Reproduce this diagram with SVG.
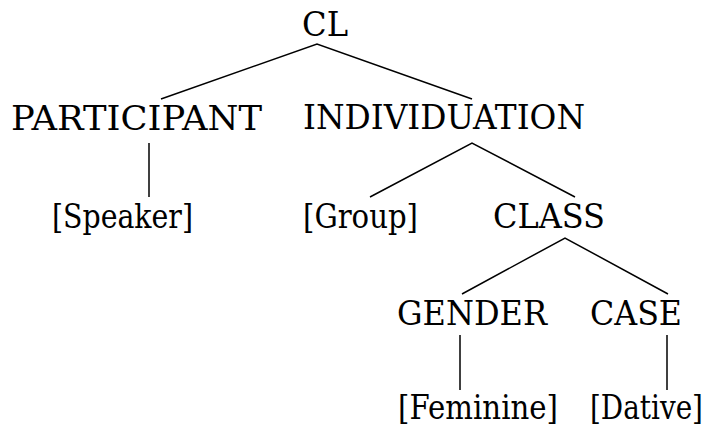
<svg xmlns="http://www.w3.org/2000/svg" width="714" height="429" viewBox="0 0 714 429">
<style>
.t{font-family:"DejaVu Serif",serif;font-size:34px;fill:#000}
.e{stroke:#000;stroke-width:1.5;fill:none}
</style>
<rect width="714" height="429" fill="#fff"/>
<g id="connectors">
<polyline class="e" points="161,99 317,44 472,99"/>
<line class="e" x1="149" y1="143" x2="149" y2="197"/>
<polyline class="e" points="370,197 472,143 575,197"/>
<polyline class="e" points="462,294 565,238 668,294"/>
<line class="e" x1="460" y1="335" x2="460" y2="390"/>
<line class="e" x1="667" y1="335" x2="667" y2="390"/>
</g>
<g id="n-cl"><text class="t" x="302" y="36" textLength="46" lengthAdjust="spacingAndGlyphs">CL</text></g>
<g id="n-participant"><text class="t" x="11" y="130" textLength="251" lengthAdjust="spacingAndGlyphs">PARTICIPANT</text></g>
<g id="n-individuation"><text class="t" x="303" y="129" textLength="282" lengthAdjust="spacingAndGlyphs">INDIVIDUATION</text></g>
<g id="n-speaker"><text class="t" x="52" y="228" textLength="141" lengthAdjust="spacingAndGlyphs">[Speaker]</text></g>
<g id="n-group"><text class="t" x="303" y="228" textLength="115" lengthAdjust="spacingAndGlyphs">[Group]</text></g>
<g id="n-class"><text class="t" x="493" y="228" textLength="112" lengthAdjust="spacingAndGlyphs">CLASS</text></g>
<g id="n-gender"><text class="t" x="397" y="325" textLength="150" lengthAdjust="spacingAndGlyphs">GENDER</text></g>
<g id="n-case"><text class="t" x="590" y="325" textLength="92" lengthAdjust="spacingAndGlyphs">CASE</text></g>
<g id="n-feminine"><text class="t" x="398" y="419" textLength="160" lengthAdjust="spacingAndGlyphs">[Feminine]</text></g>
<g id="n-dative"><text class="t" x="590" y="419" textLength="113" lengthAdjust="spacingAndGlyphs">[Dative]</text></g>
</svg>
